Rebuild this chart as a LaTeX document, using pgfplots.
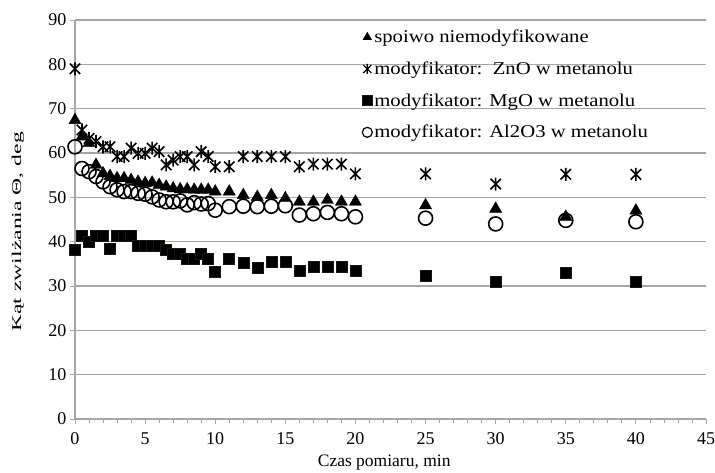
\documentclass[border=0pt]{standalone}
\usepackage{fontspec}
\setmainfont{Liberation Serif}
\usepackage{pgfplots}
\pgfplotsset{compat=1.18}
\usepackage{pgfplotstable}
\definecolor{gridgray}{HTML}{A6A6A6}
\definecolor{sqcol}{HTML}{141A10}
\newcommand{\lf}{\fontsize{18pt}{21pt}\selectfont}
\newcommand{\legtext}[1]{\lf\scalebox{1.15}[1]{#1}}

\pgfdeclareplotmark{xstar}{%
  \pgfpathmoveto{\pgfqpoint{-0.8\pgfplotmarksize}{-0.8\pgfplotmarksize}}%
  \pgfpathlineto{\pgfqpoint{0.8\pgfplotmarksize}{0.8\pgfplotmarksize}}%
  \pgfpathmoveto{\pgfqpoint{-0.8\pgfplotmarksize}{0.8\pgfplotmarksize}}%
  \pgfpathlineto{\pgfqpoint{0.8\pgfplotmarksize}{-0.8\pgfplotmarksize}}%
  \pgfpathmoveto{\pgfqpoint{0pt}{-\pgfplotmarksize}}%
  \pgfpathlineto{\pgfqpoint{0pt}{\pgfplotmarksize}}%
  \pgfusepathqstroke}

\pgfplotstableread{
x    s     zno   mgo   al
0    67.4  79.0  38.1  61.4
0.5  63.7  65.2  41.3  56.5
1    62.2  63.3  40.0  55.8
1.5  57.3  62.6  41.3  54.7
2    55.4  61.4  41.3  53.5
2.5  54.8  61.4  38.3  52.4
3    54.3  59.2  41.3  51.7
3.5  54.3  59.2  41.3  51.3
4    53.9  61.1  41.3  51.3
4.5  53.5  59.9  39.0  50.9
5    53.2  59.9  39.0  50.7
5.5  53.3  61.1  39.0  50.1
6    52.8  60.3  39.0  49.4
6.5  52.4  57.3  38.1  49.0
7    52.0  58.4  37.2  49.0
7.5  51.8  59.2  37.2  49.2
8    51.8  59.2  36.2  48.3
8.5  51.7  57.3  36.2  48.8
9    51.7  60.3  37.2  48.5
9.5  51.7  59.2  36.2  48.6
10   51.3  56.9  33.2  47.1
11   51.3  56.9  36.2  47.9
12   50.5  59.2  35.3  48.0
13   50.1  59.2  34.1  47.9
14   50.5  59.2  35.5  48.0
15   49.8  59.2  35.5  48.1
16   49.0  56.9  33.4  46.0
17   49.0  57.5  34.3  46.3
18   49.4  57.5  34.3  46.6
19   49.0  57.5  34.3  46.3
20   49.0  55.3  33.4  45.6
25   48.2  55.3  32.3  45.3
30   47.4  53.0  31.0  44.0
35   45.6  55.2  33.0  44.8
40   47.0  55.2  31.0  44.5
}\datatable

\begin{document}
\begin{tikzpicture}[x=1pt,y=1pt]
\useasboundingbox (-75pt,-53pt) rectangle (640pt,419pt);
\begin{axis}[
  at={(0pt,0pt)}, anchor=south west,
  scale only axis, width=631pt, height=399pt,
  xmin=0, xmax=45, ymin=0, ymax=90,
  xtick={0,5,...,45}, ytick={0,10,...,90},
  minor x tick num=4,
  axis x line=bottom, axis y line=left,
  axis line style={gridgray, line width=1.2pt, -},
  every tick/.style={gridgray, line width=0.8pt},
  tick align=outside,
  major tick length=5pt, minor tick length=3.5pt,
  ymajorgrids, major grid style={gridgray, line width=1.2pt},
  /pgf/number format/assume math mode=true,
  tick label style={font=\fontsize{18pt}{21pt}\selectfont, black},
  yticklabel style={xshift=0pt},
  xticklabel style={yshift=-5pt},
  xlabel={Czas pomiaru, min},
  xlabel style={font=\fontsize{17.5pt}{21pt}\selectfont, at={(rel axis cs:0.49,-0.108)}, anchor=center},
  ylabel={\scalebox{1.75}[1]{Kąt zwilżania Θ, deg}},
  ylabel style={font=\fontsize{13.5pt}{16pt}\selectfont, at={(rel axis cs:-0.0903,0.469)}, anchor=center},
  legend style={at={(rel axis cs:0.455,0.985)}, anchor=north west, draw=none, fill=none,
    font=\lf, row sep=13.5pt, inner xsep=0pt,
    nodes={inner xsep=2pt, font=\lf}},
  legend cell align=left,
  clip=false,
]
\addplot[only marks, mark=triangle*, mark size=7pt, black, mark options={fill=black},
  legend image post style={mark size=5pt}] table[x=x,y=s]{\datatable};
\addlegendentry{\legtext{spoiwo niemodyfikowane}}
\addplot[only marks, mark=xstar, mark size=6.5pt, black, mark options={line width=1.6pt},
  legend image post style={mark size=5pt, mark options={line width=1.2pt}}] table[x=x,y=zno]{\datatable};
\addlegendentry{\legtext{modyfikator:\ \ ZnO w metanolu}}
\addplot[only marks, mark=square*, mark size=5.5pt, sqcol, mark options={fill=black, line width=0.5pt},
  legend image post style={mark size=5pt}] table[x=x,y=mgo]{\datatable};
\addlegendentry{\legtext{modyfikator: MgO w metanolu}}
\addplot[only marks, mark=o, mark size=7pt, black, mark options={line width=1.6pt},
  legend image post style={mark size=5pt, mark options={line width=1.2pt}}] table[x=x,y=al]{\datatable};
\addlegendentry{\legtext{modyfikator: Al2O3 w metanolu}}
\end{axis}
\end{tikzpicture}
\end{document}
